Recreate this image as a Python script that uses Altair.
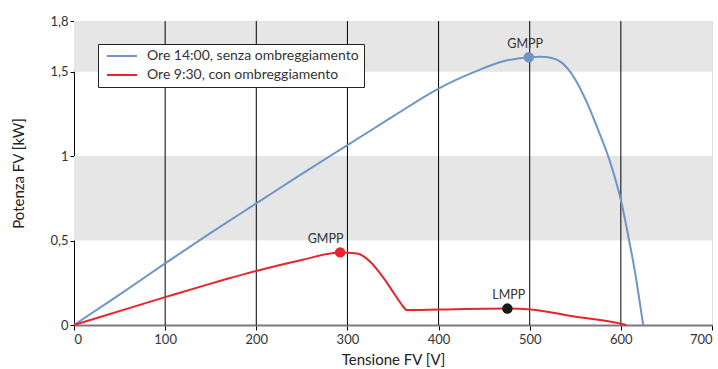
import altair as alt
import pandas as pd

S1 = "Ore 14:00, senza ombreggiamento"
S2 = "Ore 9:30, con ombreggiamento"

# Blue curve (14:00, no shading)
blue_v = [0, 50, 100, 150, 200, 250, 300, 350, 400, 440, 470, 499, 512, 523, 534, 541, 552, 563, 574,
          587, 600, 609, 617, 622, 624.5]
blue_p = [0, 0.18, 0.365, 0.545, 0.72, 0.895, 1.065, 1.235, 1.40, 1.50, 1.56, 1.585, 1.588, 1.582, 1.558,
          1.522, 1.435, 1.315, 1.17, 0.985, 0.74, 0.503, 0.266, 0.089, 0.0]

# Red curve (9:30, shaded)
red_v = [0, 100, 150, 200, 250, 292, 310.6, 325, 340, 351, 360, 365, 400, 475.5, 501, 549, 600, 606]
red_p = [0, 0.165, 0.245, 0.32, 0.385, 0.43, 0.424, 0.375, 0.276, 0.188, 0.118, 0.089, 0.092, 0.097, 0.092, 0.05, 0.008, 0.0]

# Marked points
pt_name = ["GMPP", "GMPP", "LMPP"]
pt_kind = [S1, S2, "LMPP"]
pt_v = [499, 292, 475.5]
pt_p = [1.585, 0.43, 0.097]
lab_v = [495, 276, 477]
lab_p = [1.625, 0.47, 0.135]

band_lo = [0.5, 1.5]
band_hi = [1.0, 1.8]
grid_v = [100, 200, 300, 400, 500, 600]
x_ticks = [0, 100, 200, 300, 400, 500, 600, 700]
y_ticks = [0, 0.5, 1, 1.5, 1.8]

BLUE = "#6e95c5"
RED = "#e8242c"
FONT = "Lato"

lines = pd.DataFrame(
    {"v": blue_v + red_v, "p": blue_p + red_p,
     "serie": [S1] * len(blue_v) + [S2] * len(red_v),
     "o": list(range(len(blue_v))) + list(range(len(red_v)))}
)
pts = pd.DataFrame({"name": pt_name, "kind": pt_kind, "v": pt_v, "p": pt_p, "lv": lab_v, "lp": lab_p})
bands = pd.DataFrame({"lo": band_lo, "hi": band_hi, "x0": [0, 0], "x1": [700, 700]})
grid = pd.DataFrame({"v": grid_v, "y0": [0] * len(grid_v), "y1": [1.8] * len(grid_v)})

xs = alt.Scale(domain=[0, 700], nice=False)
ys = alt.Scale(domain=[0, 1.8], nice=False)

xaxis = alt.Axis(title="Tensione FV [V]", values=x_ticks, grid=False, domainColor="#7a7a7a",
                 domainWidth=2, tickColor="#000", tickSize=5, labelPadding=3, titlePadding=6,
                 labelFontSize=13, titleFontSize=15, labelColor="#333", titleColor="#222",
                 labelFont=FONT, titleFont=FONT, titleFontWeight="normal")
yaxis = alt.Axis(title="Potenza FV [kW]", values=y_ticks, grid=False, domainColor="#000",
                 domainWidth=1, tickColor="#000", tickSize=4, labelPadding=2, titlePadding=23,
                 format=".1~f", labelExpr="replace(datum.label, '.', ',')",
                 labelFontSize=13, titleFontSize=15, labelColor="#333", titleColor="#222",
                 labelFont=FONT, titleFont=FONT, titleFontWeight="normal")

band_layer = alt.Chart(bands).mark_rect(color="#e6e6e6").encode(
    x=alt.X("x0:Q", scale=xs, axis=xaxis), x2="x1:Q",
    y=alt.Y("lo:Q", scale=ys, axis=yaxis), y2="hi:Q")

grid_layer = alt.Chart(grid).mark_rule(color="#000", strokeWidth=1).encode(
    x=alt.X("v:Q", scale=xs), y=alt.Y("y0:Q", scale=ys), y2="y1:Q")

line_layer = alt.Chart(lines).mark_line(strokeWidth=2, interpolate="monotone").encode(
    x=alt.X("v:Q", scale=xs),
    y=alt.Y("p:Q", scale=ys),
    order="o:Q",
    color=alt.Color("serie:N", scale=alt.Scale(domain=[S1, S2], range=[BLUE, RED]),
                    legend=alt.Legend(title=None, orient="none", legendX=24, legendY=23,
                                      symbolType="M-3,0H3", symbolSize=100, symbolStrokeWidth=2,
                                      symbolOffset=12, strokeColor="#222", fillColor="white",
                                      padding=5, labelFontSize=14, labelFont=FONT, labelColor="#333",
                                      rowPadding=5, labelOffset=18, labelLimit=400)))

pt_layer = alt.Chart(pts).mark_point(filled=True, size=110, opacity=1).encode(
    x=alt.X("v:Q", scale=xs), y=alt.Y("p:Q", scale=ys),
    fill=alt.Fill("kind:N", scale=alt.Scale(domain=[S1, S2, "LMPP"], range=[BLUE, RED, "#1a1a1a"]),
                  legend=None))

txt_layer = alt.Chart(pts).mark_text(fontSize=12.5, font=FONT, color="#333", baseline="bottom").encode(
    x=alt.X("lv:Q", scale=xs), y=alt.Y("lp:Q", scale=ys), text="name:N")

chart = alt.layer(band_layer, grid_layer, line_layer, pt_layer, txt_layer).properties(
    width=638, height=304,
    autosize=alt.AutoSizeParams(type="none"),
    padding={"left": 74, "top": 21, "right": 6, "bottom": 44},
).configure_view(stroke=None).configure(background="white")

chart.save("out.html", embed_options={"renderer": "svg", "actions": False})
